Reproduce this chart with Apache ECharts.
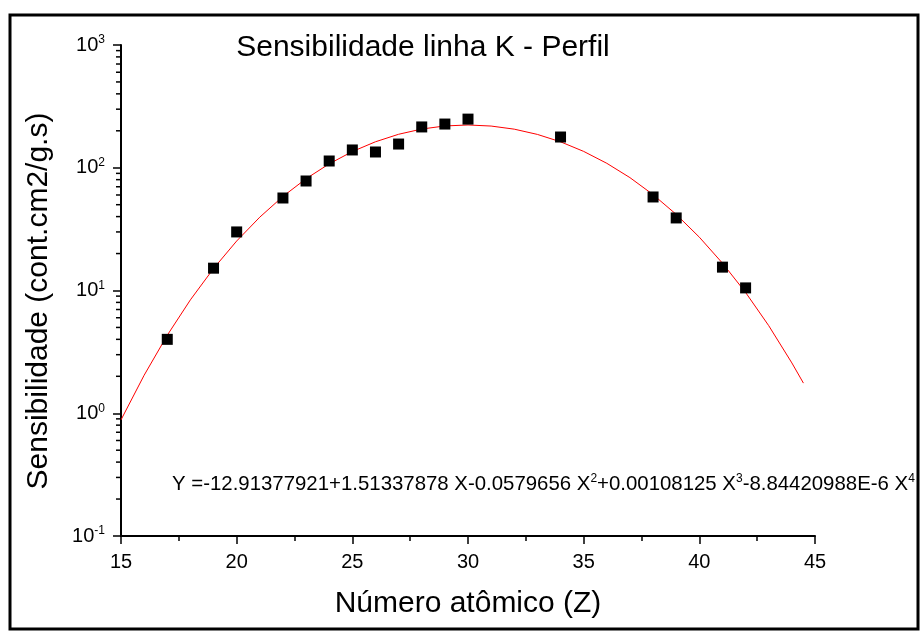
<!DOCTYPE html>
<html>
<head>
<meta charset="utf-8">
<script src="https://cdn.jsdelivr.net/npm/echarts@6/dist/echarts.min.js"></script>
<style>html,body{margin:0;padding:0;background:#fff;}#c{width:920px;height:631px;}</style>
</head>
<body>
<div id="c"></div>
<script>
// Measured data points (Z, sensitivity)
var dataZ = [17, 19, 20, 22, 23, 24, 25, 26, 27, 28, 29, 30, 34, 38, 39, 41, 42];
var dataS = [4.0, 15.2, 30.0, 56.7, 78.0, 113.5, 139.6, 134.4, 156, 215, 227, 249, 178, 57.8, 39, 15.5, 10.5];
// Fitted curve
var fitZ = [15, 16, 17, 18, 19, 20, 21, 22, 23, 24, 25, 26, 27, 28, 29, 30, 31, 32, 33, 34, 35, 36, 37, 38, 39, 40, 41, 42, 43, 44, 44.5];
var fitS = [0.883, 2.04, 4.32, 8.39, 15.1, 25.3, 39.6, 58.4, 81.4, 107.6, 135.5, 162.8, 187.4, 206.7, 219.0, 223.1, 218.6, 206.2, 186.9, 162.7, 135.9, 108.7, 83.1, 60.4, 41.7, 27.2, 16.7, 9.64, 5.17, 2.57, 1.76];
var yMinorTicks = [0.2,0.3,0.4,0.5,0.6,0.7,0.8,0.9, 2,3,4,5,6,7,8,9, 20,30,40,50,60,70,80,90, 200,300,400,500,600,700,800,900];
var xTicks = [15, 20, 25, 30, 35, 40, 45];

var FONT = 'Liberation Sans';
var chart = echarts.init(document.getElementById('c'), null, {renderer: 'canvas'});

var points = dataZ.map(function (z, i) { return [z, dataS[i]]; });
var fit = fitZ.map(function (z, i) { return [z, fitS[i]]; });
var minor = yMinorTicks.map(function (v) { return [15, v]; });

chart.setOption({
  animation: false,
  backgroundColor: '#fff',
  grid: {left: 121, right: 105, top: 45, bottom: 95, containLabel: false},
  xAxis: {
    type: 'value', min: 15, max: 45, interval: 5,
    axisLine: {show: true, lineStyle: {color: '#000', width: 2}},
    axisTick: {show: true, inside: false, length: 8, lineStyle: {color: '#000', width: 1.5}},
    minorTick: {show: true, splitNumber: 2, length: 5, lineStyle: {color: '#000', width: 1.5}},
    splitLine: {show: false},
    axisLabel: {color: '#000', fontFamily: FONT, fontSize: 20, margin: 16}
  },
  yAxis: {
    type: 'log', logBase: 10, min: 0.1, max: 1000, splitNumber: 4,
    axisLine: {show: true, lineStyle: {color: '#000', width: 2}},
    axisTick: {show: true, inside: false, length: 8, lineStyle: {color: '#000', width: 1.5}},
    splitLine: {show: false},
    axisLabel: {
      color: '#000', margin: 16,
      formatter: function (v) {
        var e = Math.round(Math.log(v) / Math.LN10);
        return '{b|10}{s|' + e + '}';
      },
      rich: {
        b: {fontFamily: FONT, fontSize: 20, lineHeight: 22, color: '#000'},
        s: {fontFamily: FONT, fontSize: 12, lineHeight: 12, verticalAlign: 'top', color: '#000'}
      }
    }
  },
  series: [
    {
      type: 'line', data: fit, showSymbol: false, symbol: 'none', smooth: false,
      lineStyle: {color: '#ff0000', width: 1}, z: 2
    },
    {
      type: 'scatter', data: points, symbol: 'rect', symbolSize: 11,
      itemStyle: {color: '#000', opacity: 1}, z: 3
    },
    {
      type: 'custom', data: minor, clip: false, silent: true,
      renderItem: function (params, api) {
        var p = api.coord([api.value(0), api.value(1)]);
        return {type: 'line', shape: {x1: p[0] - 5, y1: p[1], x2: p[0], y2: p[1]},
          style: {stroke: '#000', lineWidth: 1.5}};
      }, z: 4
    }
  ],
  graphic: [
    {type: 'rect', shape: {x: 10, y: 15, width: 908, height: 614}, style: {fill: 'none', stroke: '#000', lineWidth: 3}, z: 100},
    {type: 'text', x: 423, y: 48, style: {text: 'Sensibilidade linha K - Perfil', fontFamily: FONT, fontSize: 30, fill: '#000', align: 'center', verticalAlign: 'middle'}},
    {type: 'text', x: 468, y: 604, style: {text: 'Número atômico (Z)', fontFamily: FONT, fontSize: 30, fill: '#000', align: 'center', verticalAlign: 'middle'}},
    {type: 'text', x: 39, y: 301, rotation: Math.PI / 2, style: {text: 'Sensibilidade (cont.cm2/g.s)', fontFamily: FONT, fontSize: 30, fill: '#000', align: 'center', verticalAlign: 'middle'}},
    {type: 'text', x: 172, y: 484, style: {
      text: '{n|Y =-12.91377921+1.51337878 X-0.0579656 X}{s|2}{n|+0.00108125 X}{s|3}{n|-8.84420988E-6 X}{s|4}',
      align: 'left', verticalAlign: 'middle',
      rich: {
        n: {fontFamily: FONT, fontSize: 20.4, lineHeight: 22, fill: '#000'},
        s: {fontFamily: FONT, fontSize: 12, lineHeight: 12, verticalAlign: 'top', fill: '#000'}
      }
    }}
  ]
});
</script>
</body>
</html>
